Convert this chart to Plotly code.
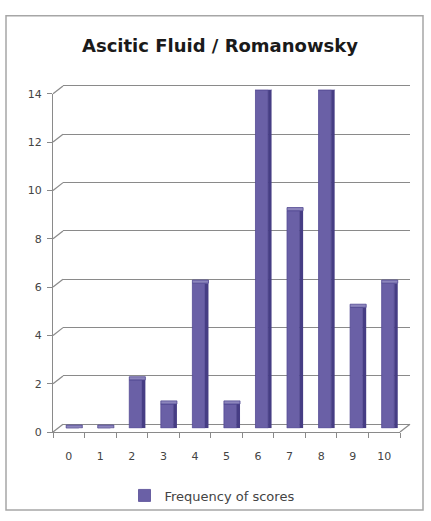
import plotly.graph_objects as go

# Score distribution for ascitic fluid smears (Romanowsky stain)
scores = [0, 1, 2, 3, 4, 5, 6, 7, 8, 9, 10]
frequency = [0, 0, 2, 1, 6, 1, 14, 9, 14, 5, 6]
y_ticks = [0, 2, 4, 6, 8, 10, 12, 14]
score_labels = [str(s) for s in scores]

W, H = 431, 521
Y_MAX = 14
Y_PAD = 0.06  # small headroom so the top gridline is not clipped


def px(x):
    return x / W


def py(y):
    return 1 - y / H


# Three depth planes of the pseudo-3D frame (pixel extents: left, right, bottom, top)
FRONT = (53, 400, 437, 90)
MID = (58, 405, 433, 86)
BACK = (63, 410, 429, 82)


def plane_y(plane, v):
    _, _, b, t = plane
    return b - (b - t) * v / Y_MAX


FACE = "#6a60a6"
SIDE = "#463d84"
TOP = "#8c85bc"
GRID = "#8a8a8a"
TEXT = "#444444"
FONT = "DejaVu Sans"

fig = go.Figure()

# Front faces of the columns
fig.add_trace(go.Bar(
    x=scores, y=frequency, name="Frequency of scores",
    xaxis="x3", yaxis="y3", width=0.4, offset=-0.24,
    marker=dict(color=FACE, line=dict(color="#544a94", width=0.8)),
    showlegend=True,
))
# Shaded right-hand side of each column
fig.add_trace(go.Bar(
    x=scores, y=frequency, xaxis="x3", yaxis="y3", width=0.11, offset=0.16,
    marker=dict(color=SIDE, line=dict(width=0)), showlegend=False, hoverinfo="skip",
))
# Top cap of each column (also the flat slab for zero counts)
fig.add_trace(go.Bar(
    x=scores, y=[0.13] * len(scores), base=frequency, xaxis="x3", yaxis="y3",
    width=0.51, offset=-0.24,
    marker=dict(color=TOP, line=dict(color="#4f4690", width=0.8)),
    showlegend=False, hoverinfo="skip",
))
# Transparent carriers so the back-wall and front-axis subplots are drawn
for xa, ya in (("x", "y"), ("x2", "y2")):
    fig.add_trace(go.Scatter(
        x=scores, y=frequency, xaxis=xa, yaxis=ya, mode="markers",
        marker=dict(opacity=0), showlegend=False, hoverinfo="skip",
    ))


def dom_x(plane):
    return [px(plane[0]), px(plane[1])]


def dom_y(plane, pad=0.0):
    return [py(plane[2]), py(plane_y(plane, Y_MAX + pad))]


layout_axes = {}
# Back wall: horizontal gridlines
layout_axes["xaxis"] = dict(domain=dom_x(BACK), range=[-0.5, 10.5], anchor="y",
                            showgrid=False, showticklabels=False, ticks="",
                            zeroline=False, showline=False, fixedrange=True)
layout_axes["yaxis"] = dict(domain=dom_y(BACK, Y_PAD), range=[0, Y_MAX + Y_PAD],
                            anchor="x", tickvals=y_ticks, showgrid=True,
                            gridcolor=GRID, gridwidth=1.3, showticklabels=False,
                            ticks="", zeroline=True, zerolinecolor=GRID,
                            zerolinewidth=1.3, showline=False, fixedrange=True)
# Front plane: axis lines, ticks and labels
layout_axes["xaxis2"] = dict(domain=dom_x(FRONT), range=[-0.5, 10.5], anchor="y2",
                             tickvals=scores, ticktext=score_labels, ticks="",
                             ticklabelstandoff=14,
                             showgrid=False, zeroline=False,
                             showline=True, linecolor=GRID, linewidth=1.3,
                             minor=dict(tick0=0.5, dtick=1, ticks="outside",
                                        ticklen=5, tickcolor=GRID, tickwidth=1,
                                        showgrid=False),
                             tickfont=dict(family=FONT, size=11, color=TEXT),
                             fixedrange=True)
layout_axes["yaxis2"] = dict(domain=dom_y(FRONT), range=[0, Y_MAX], anchor="x2",
                             tickvals=y_ticks, ticktext=[str(v) for v in y_ticks],
                             ticks="outside", ticklen=5, tickcolor=GRID, tickwidth=1,
                             ticklabelstandoff=3,
                             showgrid=False, zeroline=False,
                             showline=True, linecolor=GRID, linewidth=1.3,
                             tickfont=dict(family=FONT, size=11, color=TEXT),
                             fixedrange=True)
# Middle plane: the columns themselves
layout_axes["xaxis3"] = dict(domain=dom_x(MID), range=[-0.5, 10.5], anchor="y3",
                             visible=False, fixedrange=True)
layout_axes["yaxis3"] = dict(domain=dom_y(MID), range=[0, Y_MAX], anchor="x3",
                             visible=False, fixedrange=True)

shapes = []
# Depth connectors from the front axis to the back wall at each gridline
for v in y_ticks:
    shapes.append(dict(type="line", xref="paper", yref="paper",
                       x0=px(FRONT[0]), y0=py(plane_y(FRONT, v)),
                       x1=px(BACK[0]), y1=py(plane_y(BACK, v)),
                       line=dict(color=GRID, width=1.2)))
# Floor edge at the right
shapes.append(dict(type="line", xref="paper", yref="paper",
                   x0=px(FRONT[1]), y0=py(FRONT[2]), x1=px(BACK[1]), y1=py(BACK[2]),
                   line=dict(color=GRID, width=1.2)))
# Chart area border
shapes.append(dict(type="rect", xref="paper", yref="paper",
                   x0=px(6), y0=py(517), x1=px(423), y1=py(10),
                   line=dict(color="#a6a6a6", width=1.5), layer="below"))

fig.update_layout(
    width=W, height=H,
    margin=dict(l=0, r=0, t=0, b=0),
    paper_bgcolor="white", plot_bgcolor="rgba(0,0,0,0)",
    barmode="overlay",
    showlegend=True,
    legend=dict(orientation="h", x=px(212), y=py(502), xanchor="center",
                yanchor="middle", font=dict(family=FONT, size=13, color=TEXT),
                itemwidth=30, bgcolor="rgba(0,0,0,0)"),
    shapes=shapes,
    annotations=[dict(text="<b>Ascitic Fluid / Romanowsky</b>", xref="paper",
                      yref="paper", x=px(220), y=py(40), xanchor="center",
                      yanchor="middle", showarrow=False,
                      font=dict(family=FONT, size=18, color="#1a1a1a"))],
    **layout_axes,
)

fig.write_html("out.html")
